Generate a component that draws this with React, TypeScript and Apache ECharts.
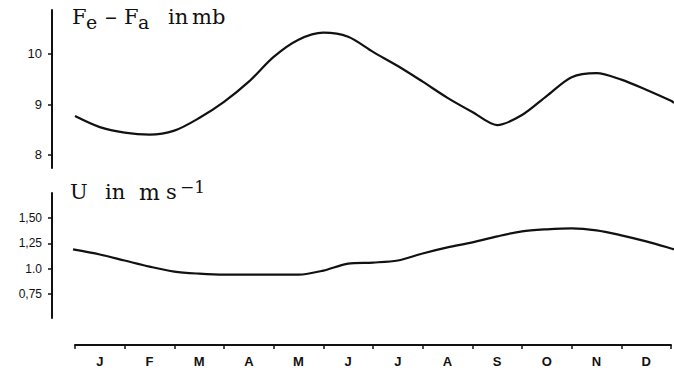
import React, { useEffect, useRef } from "react";
import * as echarts from "echarts";

const months = ["J", "F", "M", "A", "M", "J", "J", "A", "S", "O", "N", "D"];

// x in months from 1 Jan (0) to end of Dec (12)
const feX = [0, 0.5, 1, 1.5, 2, 2.5, 3, 3.5, 4, 4.5, 5, 5.5, 6, 6.5, 7, 7.5, 8, 8.5, 9, 9.5, 10, 10.5, 11, 11.5, 12, 12.06];
const feY = [8.77, 8.55, 8.44, 8.4, 8.48, 8.73, 9.05, 9.45, 9.94, 10.28, 10.42, 10.34, 10.04, 9.76, 9.45, 9.13, 8.85, 8.59, 8.79, 9.17, 9.54, 9.62, 9.49, 9.29, 9.07, 9.03];

const uX = [-0.04, 0.5, 1, 1.5, 2, 2.5, 3, 4, 4.5, 5, 5.5, 6, 6.5, 7, 7.5, 8, 8.5, 9, 9.5, 10, 10.5, 11, 11.5, 12, 12.06];
const uY = [1.19, 1.14, 1.08, 1.02, 0.97, 0.95, 0.94, 0.94, 0.94, 0.98, 1.05, 1.06, 1.08, 1.15, 1.21, 1.26, 1.32, 1.37, 1.39, 1.4, 1.38, 1.33, 1.27, 1.2, 1.19];

const feTicks = [8, 9, 10];
const uTicks = [0.75, 1.0, 1.25, 1.5];
const uTickLabels = ["0,75", "1.0", "1,25", "1,50"];

const INK = "#111";

export default function App() {
  const ref = useRef<HTMLDivElement>(null);
  useEffect(() => {
    const chart = echarts.init(ref.current!, undefined, { renderer: "svg" });
    const serif = "'DejaVu Serif', 'Liberation Serif', serif";
    const sans = "'Liberation Sans', Arial, sans-serif";
    const yAxisCommon = {
      type: "value" as const,
      splitLine: { show: false },
      axisLine: { show: true, onZero: false, lineStyle: { color: INK, width: 2 } },
      axisTick: { show: true, length: 4, lineStyle: { color: INK, width: 1.5 } },
      axisLabel: { color: INK, fontFamily: sans, fontSize: 12, margin: 10 },
    };
    // grid starts at x=52 (axis line); month 0 maps to x=75 at 49.67 px per month
    const hiddenX = {
      type: "value" as const,
      min: -0.463,
      max: 12.06,
      show: false,
      axisLine: { onZero: false },
    };
    chart.setOption({
      animation: false,
      backgroundColor: "#fff",
      grid: [
        { left: 52, right: 0, top: 10, height: 158 },
        { left: 52, right: 0, top: 193, height: 125 },
        { left: 75, right: 3, top: 330, height: 15 },
      ],
      xAxis: [
        { ...hiddenX, gridIndex: 0 },
        { ...hiddenX, gridIndex: 1 },
        {
          type: "category",
          gridIndex: 2,
          data: months,
          boundaryGap: true,
          axisLine: { show: true, onZero: false, lineStyle: { color: INK, width: 2 } },
          axisTick: { show: true, length: 4, alignWithLabel: false, lineStyle: { color: INK, width: 1.5 } },
          axisLabel: { color: INK, fontFamily: sans, fontSize: 13, fontWeight: "bold", margin: 10, interval: 0 },
        },
      ],
      yAxis: [
        {
          ...yAxisCommon,
          gridIndex: 0,
          min: 7.74,
          max: 10.87,
          axisTick: { ...yAxisCommon.axisTick, customValues: feTicks },
          axisLabel: { ...yAxisCommon.axisLabel, fontSize: 13, customValues: feTicks },
        },
        {
          ...yAxisCommon,
          gridIndex: 1,
          min: 0.51,
          max: 1.75,
          axisTick: { ...yAxisCommon.axisTick, customValues: uTicks },
          axisLabel: {
            ...yAxisCommon.axisLabel,
            fontSize: 12,
            customValues: uTicks,
            formatter: (v: number) => {
              const i = uTicks.findIndex((t) => Math.abs(t - v) < 1e-6);
              return i >= 0 ? uTickLabels[i] : "";
            },
          },
        },
        { type: "value", gridIndex: 2, show: false },
      ],
      series: [
        {
          type: "line",
          xAxisIndex: 0,
          yAxisIndex: 0,
          data: feX.map((x, i) => [x, feY[i]]),
          smooth: 0.3,
          showSymbol: false,
          lineStyle: { color: INK, width: 2.2 },
        },
        {
          type: "line",
          xAxisIndex: 1,
          yAxisIndex: 1,
          data: uX.map((x, i) => [x, uY[i]]),
          smooth: 0.3,
          showSymbol: false,
          lineStyle: { color: INK, width: 2.2 },
        },
      ],
      graphic: [
        { type: "text", x: 72, y: 6, style: { text: "F", font: `21px ${serif}`, fill: INK } },
        { type: "text", x: 86, y: 12, style: { text: "e", font: `19px ${serif}`, fill: INK } },
        { type: "text", x: 105, y: 5, style: { text: "–", font: `24px ${serif}`, fill: INK } },
        { type: "text", x: 124, y: 6, style: { text: "F", font: `21px ${serif}`, fill: INK } },
        { type: "text", x: 138, y: 12, style: { text: "a", font: `19px ${serif}`, fill: INK } },
        { type: "text", x: 168, y: 6, style: { text: "in", font: `21px ${serif}`, fill: INK } },
        { type: "text", x: 192, y: 6, style: { text: "mb", font: `21px ${serif}`, fill: INK } },
        { type: "text", x: 70, y: 181, style: { text: "U", font: `21px ${serif}`, fill: INK } },
        { type: "text", x: 105, y: 181, style: { text: "in", font: `21px ${serif}`, fill: INK } },
        { type: "text", x: 139, y: 181, style: { text: "m", font: `22px ${serif}`, fill: INK } },
        { type: "text", x: 166, y: 181, style: { text: "s", font: `21px ${serif}`, fill: INK } },
        { type: "text", x: 180, y: 178, style: { text: "−1", font: `17px ${serif}`, fill: INK } },
      ],
    });
    return () => chart.dispose();
  }, []);
  return <div ref={ref} style={{ width: 674, height: 375, position: "absolute", left: 0, top: 0 }} />;
}
